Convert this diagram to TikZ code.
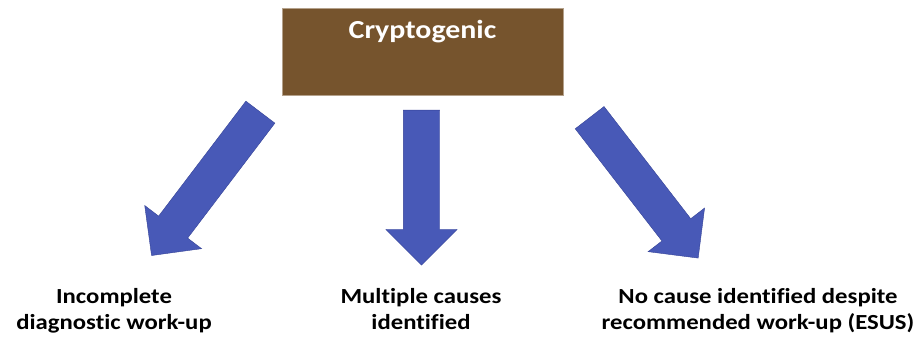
\documentclass[tikz,border=0pt]{standalone}
\usepackage{fontspec}
\setmainfont{Carlito}[FakeStretch=1.15, Ligatures=NoCommon]
\usetikzlibrary{shapes.arrows}

\definecolor{crypbrown}{RGB}{118,84,45}
\definecolor{arrowblue}{RGB}{72,89,183}
\definecolor{arrowedge}{RGB}{52,66,150}

\begin{document}
\begin{tikzpicture}[
    		x=1pt, y=-1pt,
    		every node/.style={anchor=center, inner sep=0pt},
    		category/.style={draw=crypbrown!55!white, fill=crypbrown, text=white, font=\bfseries\fontsize{26}{30}\selectfont, text width=281pt, align=center, text height=31pt, text depth=56pt},
    		outcome/.style={align=center, anchor=base, font=\bfseries\fontsize{21.5}{25}\selectfont},
    		fatarrow/.style={single arrow, draw=arrowedge, fill=arrowblue, inner xsep=0pt, inner ysep=18pt, minimum width=71pt, single arrow head extend=17.5pt, single arrow tip angle=90, anchor=tail}
    		]
    		\useasboundingbox (0,0) rectangle (920,344);
    		
    		\node[category] (crypt) at (422.5,51.5) {Cryptogenic};
    		
    		% block arrows (tail mid point, direction, length)
    		\node[fatarrow, rotate=232.8, minimum height=180pt] (arrL) at (260.5,112) {};
    		\node[fatarrow, rotate=-90, minimum height=155pt] (arrM) at (421.5,110) {};
    		\node[fatarrow, rotate=-52.3, minimum height=177.5pt] (arrR) at (589.5,117.5) {};
    		
    		\node[outcome] (incomplete) at (114,329) {Incomplete\\ diagnostic work-up};
    		\node[outcome] (multiple) at (421,329) {Multiple causes\\ identified};
    		\node[outcome] (esus) at (758,329) {No cause identified despite\\ recommended work-up (ESUS)};
    		
    		\end{tikzpicture}
\end{document}
